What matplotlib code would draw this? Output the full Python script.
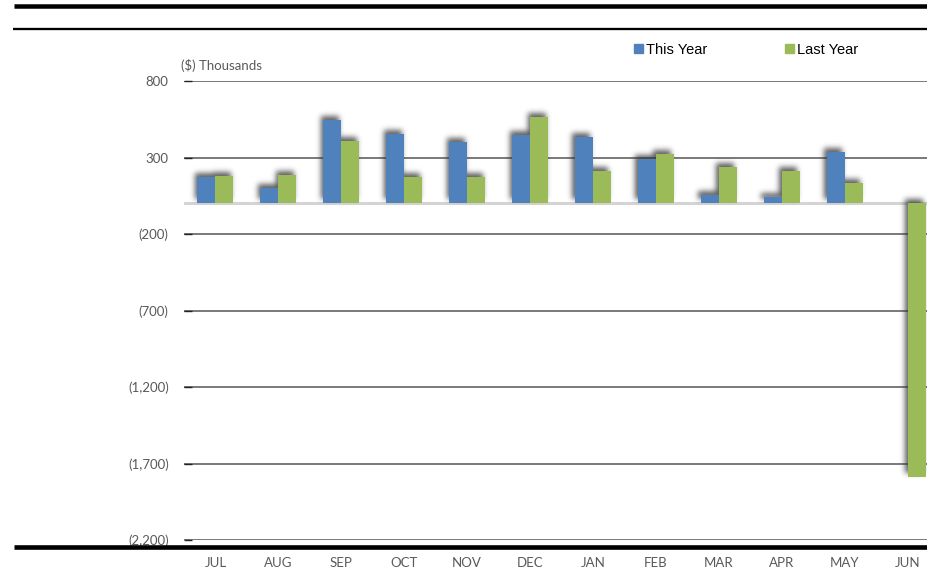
import matplotlib
matplotlib.use("Agg")
import matplotlib.pyplot as plt
from matplotlib.lines import Line2D
from matplotlib.patches import Patch
import numpy as np

months = ["JUL", "AUG", "SEP", "OCT", "NOV", "DEC", "JAN", "FEB", "MAR", "APR", "MAY", "JUN"]
this_year = [171, 99, 546, 452, 404, 446, 437, 291, 58, 43, 337, 0]
last_year = [178, 186, 407, 173, 173, 566, 215, 322, 239, 215, 136, -1787]
y_ticks = [800, 300, -200, -700, -1200, -1700, -2200]
y_tick_labels = ["800", "300", "(200)", "(700)", "(1,200)", "(1,700)", "(2,200)"]

BLUE = "#4f81bd"
GREEN = "#9bbb59"
GREY_TXT = "#595959"
TICK_FONT = "Lato"

W, H = 928, 571
fig = plt.figure(figsize=(W / 100, H / 100), dpi=100)

# plot area (in pixels: left 184, right beyond the canvas edge)
left_px, right_px, top_px, bot_px = 184, 939, 81, 540
ax = fig.add_axes([left_px / W, 1 - bot_px / H, (right_px - left_px) / W, (bot_px - top_px) / H])

x = np.arange(len(months))
bw = 0.286
b1 = ax.bar(x - bw / 2, this_year, bw, color=BLUE, zorder=3, linewidth=0)
b2 = ax.bar(x + bw / 2, last_year, bw, color=GREEN, zorder=3, linewidth=0)

ax.set_xlim(-0.5, len(months) - 0.5)
ax.set_ylim(-2200, 800)
ax.set_yticks(y_ticks)
ax.set_yticklabels(y_tick_labels)
ax.set_xticks(x)
ax.set_xticklabels(months)


def gaussian_blur(img, sigma):
    r = int(3 * sigma)
    k = np.exp(-0.5 * (np.arange(-r, r + 1) / sigma) ** 2)
    k /= k.sum()
    out = np.apply_along_axis(lambda m: np.convolve(m, k, mode="same"), 0, img)
    out = np.apply_along_axis(lambda m: np.convolve(m, k, mode="same"), 1, out)
    return out


# soft drop shadow of the bars, shifted up and to the left
aw, ah = right_px - left_px, bot_px - top_px
mask = np.zeros((ah, aw))
shift_x, shift_y = -2.5, 4.0
zero_y = ax.transData.transform((0, 0))[1] - (H - bot_px)
for r in list(b1) + list(b2):
    if r.get_height() == 0:
        r.set_visible(False)
        continue
    (x0, y0), (x1, y1) = ax.transData.transform(
        [(r.get_x(), r.get_y()), (r.get_x() + r.get_width(), r.get_y() + r.get_height())])
    xa, xb = sorted([x0 - left_px + shift_x, x1 - left_px + shift_x])
    ya, yb = sorted([y0 - (H - bot_px) + shift_y, y1 - (H - bot_px) + shift_y])
    # keep the shadow of positive bars above the zero line
    if r.get_height() > 0:
        ya = max(ya, zero_y)
    ia, ib = int(round(ah - yb)), int(round(ah - ya))
    ja, jb = int(round(xa)), int(round(xb))
    mask[max(ia, 0):max(ib, 0), max(ja, 0):max(jb, 0)] = 1.0
soft = gaussian_blur(mask, 2.7)
rgba = np.zeros((ah, aw, 4))
rgba[..., :3] = 0.22
rgba[..., 3] = np.clip(soft, 0, 1) * 0.8
ax.imshow(rgba, extent=(-0.5, len(months) - 0.5, -2200, 800), aspect="auto",
          interpolation="bilinear", zorder=2.5)
ax.set_xlim(-0.5, len(months) - 0.5)
ax.set_ylim(-2200, 800)

for v in y_ticks:
    ax.axhline(v, color="#6e6e6e", lw=1.3, zorder=1)
ax.axhline(0, color="#d4d4d4", lw=2.2, zorder=2)

for s in ax.spines.values():
    s.set_visible(False)
ax.tick_params(axis="y", direction="in", length=6, width=1.0, color="#222222",
               pad=11, labelsize=9.5, labelcolor=GREY_TXT)
ax.tick_params(axis="x", length=0, pad=12, labelsize=9.5, labelcolor=GREY_TXT)
for lab in ax.get_xticklabels() + ax.get_yticklabels():
    lab.set_fontfamily(TICK_FONT)

fig.text(181 / W, 1 - 66 / H, "($) Thousands", fontsize=9.5, color=GREY_TXT,
         family=TICK_FONT, ha="left", va="center")

# legend
handles = [Patch(color=BLUE, label="This Year"), Patch(color=GREEN, label="Last Year")]
fig.legend(handles=handles, loc="center left", bbox_to_anchor=(634 / W, 1 - 50 / H),
           ncol=2, frameon=False, handlelength=0.6, handleheight=0.6,
           handletextpad=0.25, columnspacing=5.3, borderaxespad=0, borderpad=0,
           prop={"family": "Liberation Sans", "size": 10.5})

# horizontal rules framing the chart
for y_px, lw_px, x0 in [(6.2, 4.5, 14), (29.2, 2.3, 13), (546.7, 4.6, 14)]:
    fig.add_artist(Line2D([x0 / W, 1], [1 - y_px / H, 1 - y_px / H],
                          transform=fig.transFigure, color="black",
                          lw=lw_px * 0.72, solid_capstyle="butt"))

fig.savefig("out.png", dpi=100)
